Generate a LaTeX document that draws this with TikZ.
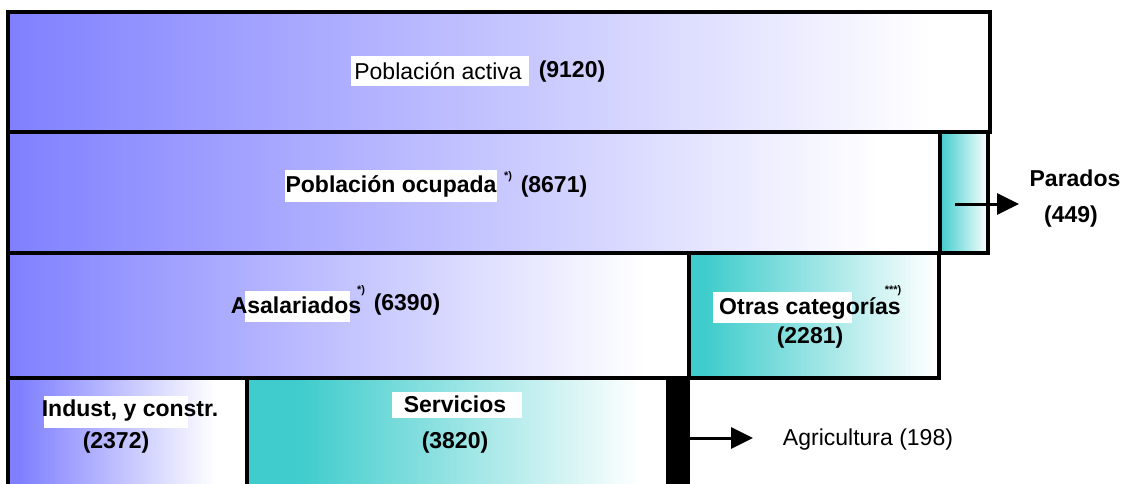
\documentclass[tikz,border=0pt]{standalone}
\usepackage{fontspec}
\setmainfont{Liberation Sans}
\usetikzlibrary{arrows.meta}
\definecolor{blueL}{RGB}{128,128,255}
\definecolor{tealC}{RGB}{64,204,204}
\begin{document}
\begin{tikzpicture}[x=1pt,y=-1pt,
  box/.style={draw=black,line width=3.5pt},
  lbl/.style={font=\fontsize{23}{26}\selectfont, inner sep=1pt},
  blbl/.style={font=\fontsize{23}{26}\selectfont\bfseries, inner sep=1pt},
  supl/.style={font=\fontsize{11}{12}\selectfont\bfseries, inner sep=0pt},
  wbg/.style={fill=white},
  arr/.style={line width=3pt,-{Triangle[length=22pt,width=21pt]}}]
\useasboundingbox (0,0) rectangle (1125,484);
% ---- fills
\shade[left color=blueL,right color=white] (8,12) rectangle (930,132);
\fill[white] (930,12) rectangle (990,132);
\shade[left color=blueL,right color=white] (8,132) rectangle (880,253);
\fill[white] (880,132) rectangle (940,253);
\shade[left color=tealC,right color=white] (940,132) rectangle (988,253);
\shade[left color=blueL,right color=white] (8,253) rectangle (645,378);
\fill[white] (645,253) rectangle (689,378);
\fill[tealC] (689,253) rectangle (705,378);
\shade[left color=tealC,right color=white] (705,253) rectangle (935,378);
\fill[blueL] (8,378) rectangle (20,484);
\shade[left color=blueL,right color=white] (20,378) rectangle (215,484);
\fill[white] (215,378) rectangle (247,484);
\fill[tealC] (247,378) rectangle (300,484);
\shade[left color=tealC,right color=white] (300,378) rectangle (640,484);
\fill[white] (640,378) rectangle (666,484);
% ---- borders
\draw[box] (8,12) rectangle (990,132);
\draw[box] (8,132) rectangle (988,253);
\draw[box] (940,132) -- (940,253);
\draw[box] (8,253) rectangle (689,378);
\draw[box] (689,253) rectangle (939,378);
\draw[box] (8,378) -- (8,484);
\draw[box] (247,378) -- (247,484);
\fill[black] (666,378) rectangle (690,484);
% ---- white label backgrounds
\fill[white] (245,291) rectangle (350,322);
\fill[white] (713,292) rectangle (852,323);
\fill[white] (44,396) rectangle (188,428);
\fill[white] (392,392) rectangle (522,418);
% ---- labels
\node[lbl,wbg,inner xsep=3pt,inner ysep=6pt] (pa) at (440,71) {Población activa\,};
\node[blbl] (pan) at (572,72) {(9120)};
\node[blbl,wbg,inner ysep=5pt] (po) at (391,186) {Población ocupada};
\node[supl] (pos) at (508,177) {*)};
\node[blbl] (pon) at (554,187) {(8671)};
\node[blbl] (par) at (1075,178) {Parados};
\node[blbl] (parn) at (1071,217) {(449)};
\node[blbl] (as) at (296,305) {Asalariados};
\node[supl] (ass) at (361,291) {*)};
\node[blbl] (asn) at (407,305) {(6390)};
\node[blbl] (ot) at (810,309) {Otras categorías};
\node[supl] (ots) at (893,291) {***)};
\node[blbl] (otn) at (810,338) {(2281)};
\node[blbl] (in) at (130,411) {Indust, y constr.};
\node[blbl] (inn) at (116,443) {(2372)};
\node[blbl] (se) at (455,404) {Servicios};
\node[blbl] (sen) at (455,443) {(3820)};
\node[lbl] (ag) at (868,440) {Agricultura (198)};
% ---- arrows
\coordinate (parS) at (955,204);
\coordinate (parE) at (1019,204);
\coordinate (agS) at (690,438);
\coordinate (agE) at (753,438);
\draw[arr] (parS) -- (parE);
\draw[arr] (agS) -- (agE);
\end{tikzpicture}
\end{document}
